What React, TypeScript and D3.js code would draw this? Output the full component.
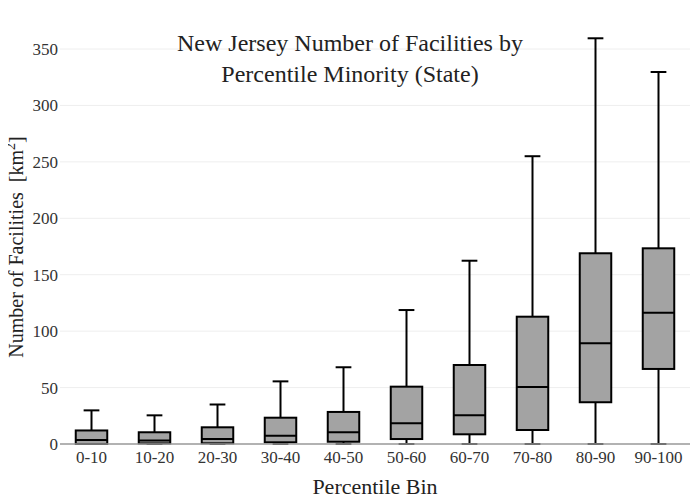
import React from "react";
import * as d3 from "d3";

const categories = ["0-10", "10-20", "20-30", "30-40", "40-50", "50-60", "60-70", "70-80", "80-90", "90-100"];
const lowerWhisker = [0, 0, 0, 0, 0, 0, 0, 0, 0, 0];
const q1 = [0, 0.5, 0.6, 1.5, 2, 4.4, 8.6, 12.4, 37, 66.5];
const median = [3.5, 3, 4.4, 7.4, 10.4, 18.3, 25.4, 50.5, 89.2, 116.4];
const q3 = [12, 10.4, 14.8, 23.3, 28.4, 50.8, 70, 112.8, 169, 173.4];
const upperWhisker = [29.8, 25.4, 35, 55.5, 68, 118.7, 162.4, 255, 359.5, 329.6];
const yTicks = [0, 50, 100, 150, 200, 250, 300, 350];

const W = 700;
const H = 500;
const left = 60;
const right = 690;
const fs = { fontFamily: "'Liberation Serif'" };

export default function App() {
  const x = d3.scaleBand<string>().domain(categories).range([left, right]).paddingInner(0.5).paddingOuter(0.25);
  const y = d3.scaleLinear().domain([0, 350]).range([444, 49]);
  const bw = x.bandwidth();
  const capW = bw / 2;

  return (
    <svg width={W} height={H} fontFamily="Liberation Serif" style={{ display: "block", marginLeft: -8, marginTop: -8 }}>
      <rect x={0} y={0} width={W} height={H} fill="#fff" />
      {yTicks.map((t) =>
        t === 0 ? null : (
          <line key={"g" + t} x1={left} x2={right} y1={y(t)} y2={y(t)} stroke="#eeeeee" strokeWidth={1} />
        )
      )}
      {yTicks.map((t) => (
        <text key={"t" + t} x={58} y={y(t) + 6} textAnchor="end" fontSize={17} fill="#333" style={fs}>
          {t}
        </text>
      ))}
      {categories.map((c, i) => {
        const x0 = x(c)!;
        const cx = x0 + bw / 2;
        return (
          <g key={c}>
            <line x1={cx} x2={cx} y1={y(q3[i])} y2={y(upperWhisker[i])} stroke="#000" strokeWidth={2} />
            <line x1={cx} x2={cx} y1={y(q1[i])} y2={y(lowerWhisker[i])} stroke="#000" strokeWidth={2} />
            <line x1={cx - capW / 2} x2={cx + capW / 2} y1={y(upperWhisker[i])} y2={y(upperWhisker[i])} stroke="#000" strokeWidth={2} />
            <line x1={cx - capW / 2} x2={cx + capW / 2} y1={y(lowerWhisker[i])} y2={y(lowerWhisker[i])} stroke="#000" strokeWidth={2} />
            <rect x={x0} y={y(q3[i])} width={bw} height={y(q1[i]) - y(q3[i])} fill="#a3a3a3" stroke="#000" strokeWidth={2} />
            <line x1={x0} x2={x0 + bw} y1={y(median[i])} y2={y(median[i])} stroke="#000" strokeWidth={2} />
            <text x={cx} y={463} textAnchor="middle" fontSize={17} fill="#333" style={fs}>
              {c}
            </text>
          </g>
        );
      })}
      <line x1={left} x2={right} y1={y(0)} y2={y(0)} stroke="#999" strokeWidth={1.5} />
      <text x={350} y={51} textAnchor="middle" fontSize={24} fill="#222" style={fs}>
        New Jersey Number of Facilities by
      </text>
      <text x={350} y={82} textAnchor="middle" fontSize={24} fill="#222" style={fs}>
        Percentile Minority (State)
      </text>
      <text x={375} y={494} textAnchor="middle" fontSize={22} fill="#222" style={fs}>
        Percentile Bin
      </text>
      <text transform={`translate(23, 247) rotate(-90)`} textAnchor="middle" fontSize={20} fill="#222" style={fs}>
        Number of Facilities{"\u00a0\u00a0"}[km<tspan dy={-8} fontSize={14}>2</tspan><tspan dy={8}>]</tspan>
      </text>
    </svg>
  );
}
